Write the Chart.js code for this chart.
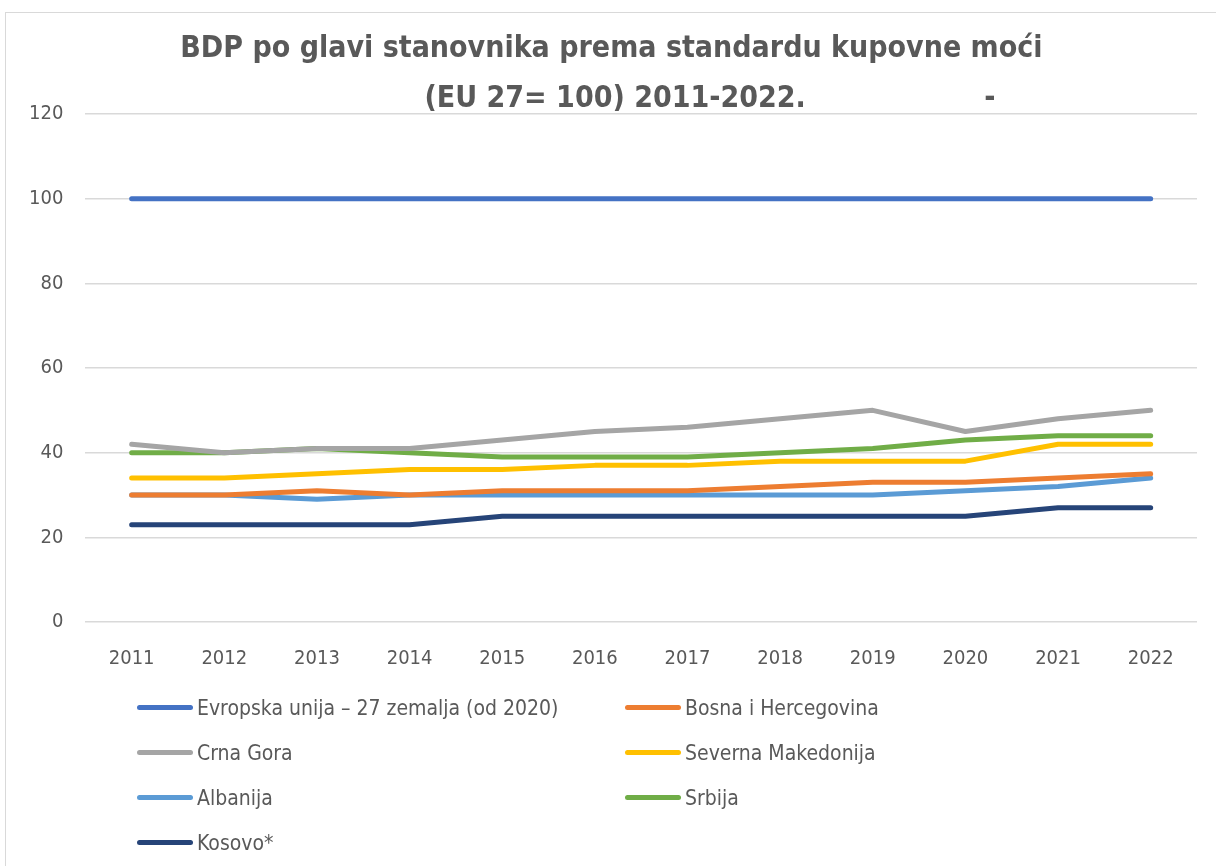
<!DOCTYPE html>
<html>
<head>
<meta charset="utf-8">
<script src="https://cdn.jsdelivr.net/npm/chart.js@4.4.0/dist/chart.umd.min.js"></script>
<style>
  body { margin: 0; background: #fff; }
  #frame { position: absolute; left: 5px; top: 12px; width: 1240px; height: 900px;
           border-top: 1px solid #d9d9d9; border-left: 1px solid #d9d9d9; }
  #wrap { position: absolute; left: 0; top: 0; width: 1216px; height: 706px; }
  #legend { position: absolute; left: 137px; top: 685px; display: grid;
            grid-template-columns: 488px 400px; row-gap: 0; font-family: "Liberation Sans Narrow", "DejaVu Sans Condensed", sans-serif;
            font-size: 21px; color: #595959; }
  .item { height: 45px; display: flex; align-items: center; }
  .sw { width: 56px; height: 5px; border-radius: 3px; margin-right: 4px; }
</style>
</head>
<body>
<div id="frame"></div>
<div id="wrap"><canvas id="gdpChart"></canvas></div>
<div id="legend"></div>
<script>
const YEARS = ['2011','2012','2013','2014','2015','2016','2017','2018','2019','2020','2021','2022'];

const EU27 = [100,100,100,100,100,100,100,100,100,100,100,100];
const BIH = [30,30,31,30,31,31,31,32,33,33,34,35];
const MNE = [42,40,41,41,43,45,46,48,50,45,48,50];
const MKD = [34,34,35,36,36,37,37,38,38,38,42,42];
const ALB = [30,30,29,30,30,30,30,30,30,31,32,34];
const SRB = [40,40,41,40,39,39,39,40,41,43,44,44];
const KOS = [23,23,23,23,25,25,25,25,25,25,27,27];

const NAMES = ['Evropska unija – 27 zemalja (od 2020)', 'Bosna i Hercegovina', 'Crna Gora',
  'Severna Makedonija', 'Albanija', 'Srbija', 'Kosovo*'];
const COLORS = ['#4472C4', '#ED7D31', '#A5A5A5', '#FFC000', '#5B9BD5', '#70AD47', '#264478'];
const SERIES = [EU27, BIH, MNE, MKD, ALB, SRB, KOS];

const FONT = '"Liberation Sans Narrow", "DejaVu Sans Condensed", sans-serif';

const datasets = SERIES.map((d, i) => ({
  label: NAMES[i],
  data: d,
  borderColor: COLORS[i],
  backgroundColor: COLORS[i],
  borderWidth: 5,
  borderCapStyle: 'round',
  borderJoinStyle: 'round',
  pointRadius: 0,
  tension: 0,
  fill: false
}));

const ctx = document.getElementById('gdpChart').getContext('2d');
const chart = new Chart(ctx, {
  type: 'line',
  data: { labels: YEARS, datasets },
  options: {
    responsive: true,
    maintainAspectRatio: false,
    animation: false,
    layout: { padding: { top: 24, left: 7, right: 19, bottom: 10 } },
    plugins: {
      legend: { display: false },
      tooltip: { enabled: false },
      title: {
        display: true,
        text: ['\u00a0\u00a0BDP po glavi stanovnika prema standardu kupovne moći',
               '\u00a0'.repeat(23) + '(EU 27= 100) 2011-2022.' + '\u00a0'.repeat(19) + '-'],
        color: '#595959',
        font: { family: FONT, size: 30, weight: 'bold', lineHeight: 1.667 },
        padding: { top: 0, bottom: -10 }
      }
    },
    scales: {
      x: {
        offset: true,
        grid: { display: false, drawTicks: false },
        border: { display: false },
        ticks: { color: '#595959', font: { family: FONT, size: 20 }, padding: 25 }
      },
      y: {
        min: 0,
        max: 120,
        ticks: { stepSize: 20, color: '#595959', font: { family: FONT, size: 20 }, padding: 22 },
        grid: { color: '#d9d9d9', lineWidth: 1.5, drawTicks: false },
        border: { display: false }
      }
    }
  }
});

// two-column legend like the original
const legendEl = document.getElementById('legend');
chart.data.datasets.forEach(ds => {
  const it = document.createElement('div');
  it.className = 'item';
  it.innerHTML = `<span class="sw" style="background:${ds.borderColor}"></span>${ds.label}`;
  legendEl.appendChild(it);
});
</script>
</body>
</html>
